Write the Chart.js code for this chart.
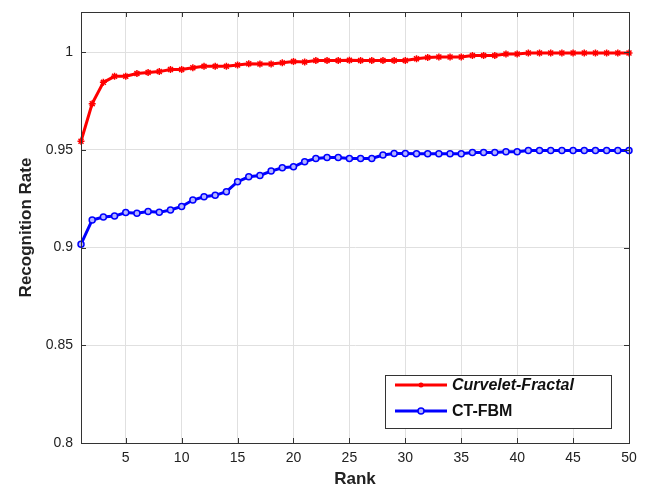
<!DOCTYPE html>
<html>
<head>
<meta charset="utf-8">
<script src="https://cdn.jsdelivr.net/npm/chart.js@4/dist/chart.umd.min.js"></script>
<style>
  html, body { margin: 0; padding: 0; background: #fff; }
  #wrap { width: 645px; height: 494px; }
</style>
</head>
<body>
<div id="wrap"><canvas id="rankChart" width="645" height="494"></canvas></div>
<script>
// --- Data ---
const ranks = Array.from({ length: 50 }, (_, i) => i + 1);
const curveletFractal = [
  0.9544, 0.9736, 0.9845, 0.9876, 0.9876, 0.9890, 0.9896, 0.9900, 0.9911, 0.9911,
  0.9920, 0.9927, 0.9927, 0.9927, 0.9934, 0.9940, 0.9939, 0.9939, 0.9945, 0.9952,
  0.9949, 0.9957, 0.9957, 0.9957, 0.9958, 0.9957, 0.9957, 0.9957, 0.9957, 0.9957,
  0.9966, 0.9972, 0.9975, 0.9975, 0.9975, 0.9983, 0.9983, 0.9983, 0.9990, 0.9990,
  0.9995, 0.9995, 0.9995, 0.9995, 0.9995, 0.9995, 0.9995, 0.9995, 0.9995, 0.9995
];
const ctFbm = [
  0.9017, 0.9141, 0.9156, 0.9161, 0.9179, 0.9175, 0.9184, 0.9180, 0.9192, 0.9210,
  0.9243, 0.9260, 0.9267, 0.9286, 0.9337, 0.9362, 0.9369, 0.9391, 0.9408, 0.9413,
  0.9439, 0.9456, 0.9460, 0.9460, 0.9456, 0.9456, 0.9456, 0.9473, 0.9481, 0.9481,
  0.9480, 0.9480, 0.9480, 0.9480, 0.9480, 0.9486, 0.9486, 0.9486, 0.9490, 0.9490,
  0.9497, 0.9497, 0.9497, 0.9497, 0.9497, 0.9497, 0.9497, 0.9497, 0.9497, 0.9497
];
const xTicks = [5, 10, 15, 20, 25, 30, 35, 40, 45, 50];
const yTicks = [0.8, 0.85, 0.9, 0.95, 1];

const FONT = "'Liberation Sans', Arial, Helvetica, sans-serif";

// --- Box around the plot, inward tick marks, legend inside bottom-right ---
const boxAndLegend = {
  id: 'boxAndLegend',
  afterDraw(chart) {
    const { ctx, chartArea: a, scales } = chart;
    ctx.save();
    ctx.strokeStyle = '#333';
    ctx.lineWidth = 1;
    ctx.strokeRect(a.left + 0.5, a.top + 0.5, a.right - a.left, a.bottom - a.top);

    // MATLAB-style inward ticks
    ctx.beginPath();
    xTicks.forEach(v => {
      const px = Math.round(scales.x.getPixelForValue(v)) + 0.5;
      ctx.moveTo(px, a.bottom); ctx.lineTo(px, a.bottom - 5);
      ctx.moveTo(px, a.top); ctx.lineTo(px, a.top + 5);
    });
    yTicks.forEach(v => {
      const py = Math.round(scales.y.getPixelForValue(v)) + 0.5;
      ctx.moveTo(a.left, py); ctx.lineTo(a.left + 5, py);
      ctx.moveTo(a.right, py); ctx.lineTo(a.right - 5, py);
    });
    ctx.stroke();

    // legend
    const lx = 385, ly = 375, lw = 226, lh = 53;
    ctx.fillStyle = '#fff';
    ctx.fillRect(lx, ly, lw, lh);
    ctx.strokeStyle = '#333';
    ctx.strokeRect(lx + 0.5, ly + 0.5, lw, lh);
    const rows = [
      { ds: chart.data.datasets[0], y: 385, font: 'italic bold 16px ' + FONT, dot: true },
      { ds: chart.data.datasets[1], y: 411, font: 'bold 16px ' + FONT, dot: false }
    ];
    rows.forEach(r => {
      ctx.strokeStyle = r.ds.borderColor;
      ctx.lineWidth = 3;
      ctx.beginPath();
      ctx.moveTo(395, r.y);
      ctx.lineTo(447, r.y);
      ctx.stroke();
      ctx.beginPath();
      ctx.lineWidth = 1.5;
      if (r.dot) {
        ctx.fillStyle = r.ds.borderColor;
        ctx.arc(421, r.y, 2.5, 0, Math.PI * 2);
        ctx.fill();
      } else {
        ctx.fillStyle = r.ds.pointBackgroundColor;
        ctx.arc(421, r.y, 3, 0, Math.PI * 2);
        ctx.fill();
        ctx.stroke();
      }
      ctx.fillStyle = '#111';
      ctx.font = r.font;
      ctx.textBaseline = 'middle';
      ctx.textAlign = 'left';
      ctx.fillText(r.ds.label, 452, r.y + 1);
    });
    ctx.restore();
  }
};

const ctx = document.getElementById('rankChart').getContext('2d');
new Chart(ctx, {
  type: 'line',
  data: {
    labels: ranks,
    datasets: [
      {
        label: 'Curvelet-Fractal',
        data: ranks.map((r, i) => ({ x: r, y: curveletFractal[i] })),
        borderColor: '#ff0000',
        backgroundColor: '#ff0000',
        borderWidth: 3,
        pointStyle: 'star',
        pointRadius: 3.5,
        pointBorderWidth: 1.5,
        pointBackgroundColor: '#ff0000',
        tension: 0,
        clip: 6
      },
      {
        label: 'CT-FBM',
        data: ranks.map((r, i) => ({ x: r, y: ctFbm[i] })),
        borderColor: '#0000ff',
        backgroundColor: '#0000ff',
        borderWidth: 3,
        pointStyle: 'circle',
        pointRadius: 3,
        pointBorderWidth: 1.5,
        pointBackgroundColor: '#b4b4ff',
        tension: 0,
        clip: 6
      }
    ]
  },
  options: {
    responsive: false,
    animation: false,
    layout: { padding: { top: 12, right: 16, left: 12, bottom: 0 } },
    plugins: { legend: { display: false }, tooltip: { enabled: false } },
    scales: {
      x: {
        type: 'linear', min: 1, max: 50,
        afterBuildTicks: s => { s.ticks = xTicks.map(v => ({ value: v })); },
        afterFit: s => { s.height = 51; s.paddingLeft = 0; s.paddingRight = 0; },
        grid: { color: '#e0e0e0', drawTicks: false },
        border: { color: '#333' },
        ticks: { color: '#222', font: { family: FONT, size: 14 }, padding: 7 },
        title: { display: true, text: 'Rank', color: '#222', font: { family: FONT, size: 17, weight: 'bold' }, padding: { top: 2 } }
      },
      y: {
        min: 0.8, max: 1.0205,
        afterBuildTicks: s => { s.ticks = yTicks.map(v => ({ value: v })); },
        afterFit: s => { s.width = 69; s.paddingTop = 0; s.paddingBottom = 0; },
        grid: { color: '#e0e0e0', drawTicks: false },
        border: { color: '#333' },
        ticks: { color: '#222', font: { family: FONT, size: 14 }, padding: 8, callback: v => String(+v.toFixed(2)) },
        title: { display: true, text: 'Recognition Rate', color: '#222', font: { family: FONT, size: 17, weight: 'bold' }, padding: { bottom: 4 } }
      }
    }
  },
  plugins: [boxAndLegend]
});
</script>
</body>
</html>
